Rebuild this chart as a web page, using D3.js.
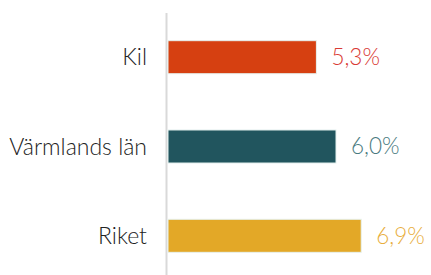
<!DOCTYPE html>
<html><head><meta charset="utf-8">
<script src="https://cdn.jsdelivr.net/npm/d3@7"></script>
<style>body{margin:0;background:#fff}svg{display:block}</style>
</head><body>
<script>
const categories = ["Kil", "Värmlands län", "Riket"];
const values = [5.3, 6.0, 6.9];
const valueLabels = ["5,3%", "6,0%", "6,9%"];
const barColors = ["#d64011", "#21555e", "#e3a827"];
const labelColors = ["#d93a35", "#4a7a80", "#e8ae3c"];

const W = 431, H = 275;
const x0 = 168;
const svg = d3.select("body").append("svg").attr("width", W).attr("height", H);
const x = d3.scaleLinear().domain([0, 10]).range([x0, x0 + 280]);
const y = d3.scaleBand().domain(categories).range([13, 280]).paddingInner(0.63).paddingOuter(0.31);

svg.append("line").attr("x1", 166.5).attr("x2", 166.5).attr("y1", 13).attr("y2", H)
  .attr("stroke", "#d9d9d9").attr("stroke-width", 2);

svg.selectAll("rect.bar").data(values).join("rect")
  .attr("class", "bar")
  .attr("x", x(0)).attr("y", (d, i) => y(categories[i]))
  .attr("width", d => x(d) - x(0)).attr("height", y.bandwidth())
  .attr("fill", (d, i) => barColors[i])
  .attr("stroke", "#e6f2ef").attr("stroke-width", 1);

svg.selectAll("text.cat").data(categories).join("text")
  .attr("class", "cat")
  .attr("x", 147).attr("y", d => y(d) + y.bandwidth() / 2)
  .attr("dy", "0.35em").attr("text-anchor", "end")
  .attr("font-family", "Lato").attr("font-weight", 300).attr("font-size", 23)
  .attr("fill", "#222").text(d => d);

svg.selectAll("text.val").data(values).join("text")
  .attr("class", "val")
  .attr("x", d => x(d) + 15).attr("y", (d, i) => y(categories[i]) + y.bandwidth() / 2)
  .attr("dy", "0.35em")
  .attr("font-family", "Lato").attr("font-weight", 300).attr("font-size", 22.5)
  .attr("fill", (d, i) => labelColors[i]).text((d, i) => valueLabels[i]);
</script>
</body></html>
